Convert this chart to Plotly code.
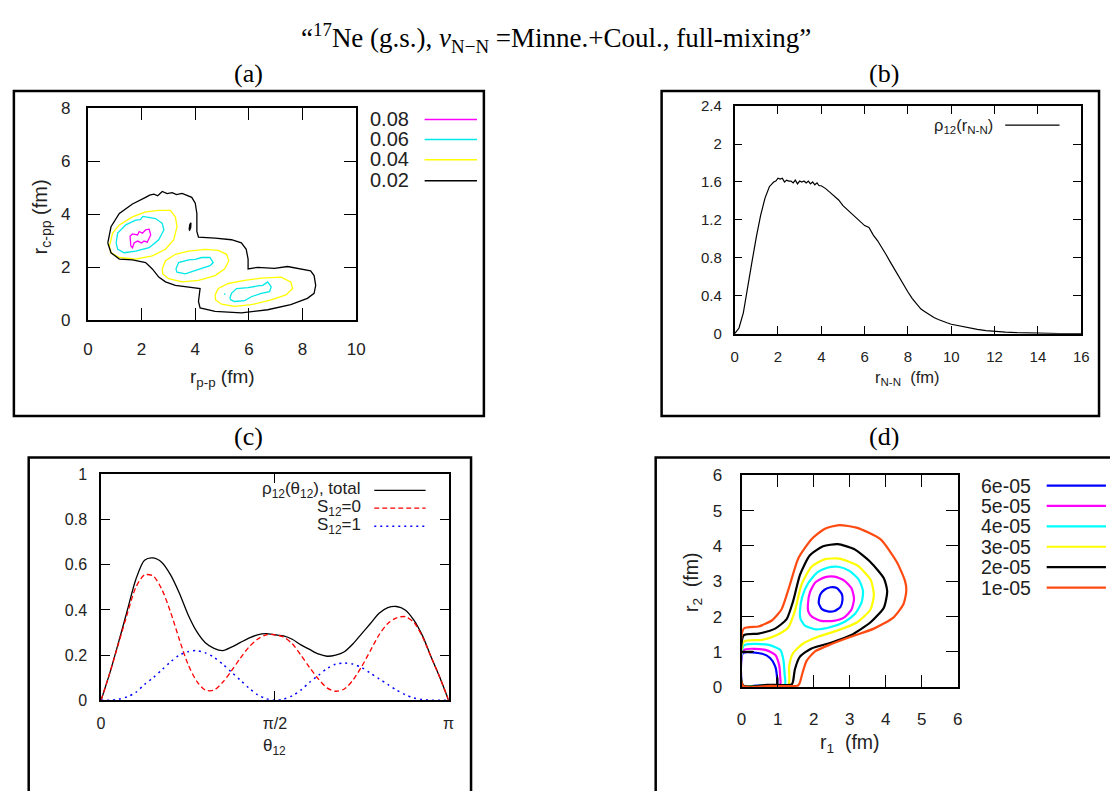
import plotly.graph_objects as go

W, H = 1110, 791

# ---------------- Panel (a): contour levels of rho(r_pp, r_c-pp) ----------------
a_levels = ["0.08", "0.06", "0.04", "0.02"]
a_colors = ["#ff00ff", "#00e8e8", "#ffff00", "#000000"]

a_c008_x = [1.60, 1.57, 1.66, 1.85, 1.91, 2.03, 2.15, 2.28, 2.34, 2.21, 2.09, 2.00, 1.85, 1.72, 1.66, 1.60]
a_c008_y = [2.80, 3.17, 3.26, 3.22, 3.35, 3.29, 3.41, 3.44, 3.22, 2.95, 2.99, 2.92, 2.99, 2.92, 2.74, 2.80]

a_c006_x = [1.05, 1.11, 1.41, 1.78, 1.95, 2.05, 2.15, 2.52, 2.77, 2.83, 2.64, 2.28, 1.78, 1.35, 1.11, 1.05, None,
            3.28, 3.38, 3.75, 4.00, 4.24, 4.55, 4.67, 4.55, 4.24, 4.00, 3.63, 3.32, 3.28, None,
            5.29, 5.35, 5.54, 5.97, 6.33, 6.52, 6.70, 6.83, 6.77, 6.46, 6.09, 5.84, 5.47, 5.33, 5.29, None,
            5.08, 5.12]
a_c006_y = [2.92, 3.29, 3.60, 3.78, 3.80, 3.92, 3.90, 3.84, 3.66, 3.41, 3.04, 2.74, 2.61, 2.55, 2.68, 2.92, None,
            1.94, 2.18, 2.28, 2.30, 2.37, 2.37, 2.18, 2.06, 1.96, 1.87, 1.75, 1.82, 1.94, None,
            0.83, 1.02, 1.20, 1.23, 1.30, 1.32, 1.45, 1.26, 1.08, 1.02, 0.89, 0.74, 0.71, 0.77, 0.83, None,
            0.97, 1.01]

a_c004_x = [0.80, 0.92, 1.17, 1.66, 2.15, 2.64, 3.07, 3.26, 3.32, 3.20, 2.89, 2.40, 1.78, 1.17, 0.86, 0.80, None,
            2.77, 2.89, 3.26, 3.75, 4.37, 4.86, 5.17, 5.25, 5.10, 4.74, 4.12, 3.51, 3.01, 2.79, 2.77, None,
            4.74, 4.86, 5.23, 5.84, 6.46, 7.20, 7.56, 7.63, 7.38, 6.83, 6.09, 5.47, 4.98, 4.76, 4.74]
a_c004_y = [2.80, 3.29, 3.60, 3.90, 4.09, 4.15, 4.15, 3.90, 3.53, 3.04, 2.68, 2.43, 2.31, 2.37, 2.55, 2.80, None,
            1.94, 2.25, 2.49, 2.61, 2.68, 2.64, 2.49, 2.25, 1.94, 1.69, 1.51, 1.45, 1.57, 1.75, 1.94, None,
            0.96, 1.20, 1.39, 1.51, 1.59, 1.63, 1.45, 1.20, 0.96, 0.77, 0.59, 0.53, 0.61, 0.77, 0.96]

a_c002_x = [0.74, 0.86, 1.17, 1.66, 2.15, 2.30, 2.46, 2.60, 2.77, 2.95, 3.14, 3.30, 3.51, 3.87, 4.00, 4.06, 4.06,
            4.12, 4.74, 5.35, 5.72, 5.90, 5.97, 5.97, 6.33, 6.95, 7.44, 7.93, 8.30, 8.43, 8.49, 8.43, 8.18, 7.56,
            6.70, 5.72, 4.74, 4.18, 4.12, 4.18, 3.75, 3.26, 2.89, 2.64, 2.40, 2.15, 1.66, 1.17, 0.86, 0.74, None,
            3.77, 3.80, 3.84, 3.83, 3.79, 3.77]
a_c002_y = [2.92, 3.53, 4.03, 4.39, 4.64, 4.72, 4.76, 4.70, 4.86, 4.78, 4.82, 4.74, 4.79, 4.64, 4.42, 4.03, 3.35,
            3.14, 3.10, 3.04, 2.92, 2.68, 2.31, 1.94, 2.00, 1.96, 2.03, 1.94, 1.87, 1.69, 1.32, 1.02, 0.83, 0.59,
            0.40, 0.28, 0.34, 0.47, 0.71, 1.20, 1.26, 1.32, 1.45, 1.63, 1.94, 2.18, 2.28, 2.31, 2.55, 2.92, None,
            3.42, 3.62, 3.68, 3.50, 3.40, 3.42]

# ---------------- Panel (b): rho_12(r_N-N) ----------------
b_r = [0.0, 0.2, 0.4, 0.6, 0.8, 1.0, 1.2, 1.4, 1.6, 1.8, 1.9, 2.0, 2.1, 2.2, 2.3, 2.4, 2.5, 2.6, 2.7, 2.8,
       2.9, 3.0, 3.1, 3.2, 3.3, 3.4, 3.5, 3.6, 3.7, 3.8, 3.9, 4.0, 4.2, 4.4, 4.6, 4.8, 5.0, 5.2, 5.4, 5.6,
       5.8, 6.0, 6.2, 6.4, 6.6, 6.8, 7.0, 7.2, 7.4, 7.6, 7.8, 8.0, 8.2, 8.4, 8.6, 8.8, 9.0, 9.2, 9.4, 9.6,
       9.8, 10.0, 10.4, 10.8, 11.2, 11.6, 12.0, 12.5, 13.0, 13.5, 14.0, 15.0, 16.0]
b_rho = [0.0, 0.06, 0.22, 0.47, 0.76, 1.02, 1.25, 1.43, 1.55, 1.60, 1.61, 1.64, 1.63, 1.64, 1.60, 1.62, 1.61, 1.61,
         1.59, 1.62, 1.58, 1.61, 1.60, 1.61, 1.59, 1.61, 1.58, 1.60, 1.57, 1.59, 1.56, 1.56, 1.53, 1.49, 1.45,
         1.41, 1.35, 1.31, 1.27, 1.23, 1.19, 1.14, 1.12, 1.04, 0.98, 0.91, 0.83, 0.75, 0.67, 0.59, 0.51, 0.44,
         0.37, 0.31, 0.26, 0.23, 0.20, 0.17, 0.15, 0.13, 0.115, 0.10, 0.08, 0.06, 0.045, 0.033, 0.024, 0.016,
         0.011, 0.007, 0.005, 0.002, 0.001]

# ---------------- Panel (c): rho_12(theta_12), theta in units of pi ----------------
c_theta = [0.0, 0.025, 0.05, 0.075, 0.1, 0.125, 0.15, 0.175, 0.2, 0.225, 0.25, 0.275, 0.3, 0.325, 0.35,
           0.375, 0.4, 0.425, 0.45, 0.475, 0.5, 0.525, 0.55, 0.575, 0.6, 0.625, 0.65, 0.675, 0.7, 0.725,
           0.75, 0.775, 0.8, 0.825, 0.85, 0.875, 0.9, 0.925, 0.95, 0.975, 1.0]
c_total = [0.0, 0.12, 0.255, 0.395, 0.535, 0.62, 0.63, 0.61, 0.555, 0.475, 0.38, 0.305, 0.255, 0.23, 0.22,
           0.235, 0.255, 0.275, 0.29, 0.295, 0.29, 0.285, 0.27, 0.245, 0.225, 0.205, 0.195, 0.2, 0.215, 0.25,
           0.295, 0.34, 0.385, 0.41, 0.415, 0.4, 0.355, 0.285, 0.19, 0.1, 0.0]
c_s0 = [0.0, 0.12, 0.25, 0.38, 0.5, 0.555, 0.55, 0.49, 0.39, 0.27, 0.16, 0.085, 0.045, 0.045, 0.08, 0.13,
        0.185, 0.235, 0.27, 0.29, 0.29, 0.28, 0.25, 0.2, 0.145, 0.095, 0.055, 0.04, 0.05, 0.09, 0.15, 0.22,
        0.29, 0.34, 0.365, 0.37, 0.345, 0.28, 0.19, 0.1, 0.0]
c_s1 = [0.0, 0.0, 0.005, 0.015, 0.035, 0.07, 0.1, 0.135, 0.17, 0.2, 0.215, 0.22, 0.21, 0.19, 0.16, 0.125,
        0.09, 0.055, 0.025, 0.007, 0.0, 0.005, 0.02, 0.045, 0.08, 0.11, 0.14, 0.16, 0.165, 0.16, 0.145, 0.12,
        0.095, 0.07, 0.045, 0.025, 0.01, 0.003, 0.0, 0.0, 0.0]
c_names = ["ρ<sub>12</sub>(θ<sub>12</sub>), total", "S<sub>12</sub>=0", "S<sub>12</sub>=1"]

# ---------------- Panel (d): contour levels of rho(r1, r2) ----------------
d_levels = ["6e-05", "5e-05", "4e-05", "3e-05", "2e-05", "1e-05"]
d_colors = ["#0000ff", "#ff00ff", "#00ffff", "#ffff00", "#000000", "#ff4a10"]

d_c6_x = [2.14, 2.18, 2.30, 2.47, 2.64, 2.78, 2.80, 2.74, 2.58, 2.39, 2.23, 2.14, None,
          0.04, 0.04, 0.57, 0.79, 0.93, 0.98, 0.98, 0.60, 0.04]
d_c6_y = [2.39, 2.62, 2.76, 2.83, 2.81, 2.64, 2.47, 2.27, 2.16, 2.15, 2.21, 2.39, None,
          0.05, 0.97, 0.95, 0.83, 0.60, 0.32, 0.07, 0.06, 0.05]
d_c5_x = [1.84, 1.90, 2.05, 2.30, 2.58, 2.85, 3.05, 3.12, 3.05, 2.85, 2.55, 2.20, 1.95, 1.85, 1.84, None,
          0.04, 0.05, 0.66, 0.93, 1.04, 1.07, 1.07, 0.60, 0.04]
d_c5_y = [2.35, 2.70, 2.97, 3.11, 3.13, 3.02, 2.80, 2.50, 2.20, 1.98, 1.88, 1.88, 2.00, 2.15, 2.35, None,
          0.05, 1.05, 1.06, 0.92, 0.64, 0.32, 0.07, 0.06, 0.05]
d_c4_x = [1.62, 1.68, 1.85, 2.10, 2.40, 2.68, 2.98, 3.25, 3.37, 3.33, 3.15, 2.85, 2.45, 2.05, 1.75, 1.63, 1.62,
          None, 0.04, 0.06, 0.75, 1.07, 1.16, 1.19, 1.20, 0.60, 0.04]
d_c4_y = [2.15, 2.55, 2.95, 3.25, 3.39, 3.41, 3.30, 3.05, 2.72, 2.40, 2.08, 1.85, 1.70, 1.64, 1.75, 1.95, 2.15,
          None, 0.05, 1.18, 1.20, 1.06, 0.78, 0.41, 0.07, 0.06, 0.05]
d_c3_x = [0.04, 0.06, 0.57, 0.98, 1.30, 1.48, 1.66, 1.94, 2.30, 2.71, 3.21, 3.58, 3.67, 3.58, 3.21, 2.67,
          2.12, 1.71, 1.43, 1.32, 1.30, 0.70, 0.04]
d_c3_y = [0.05, 1.29, 1.34, 1.48, 1.70, 2.16, 2.90, 3.41, 3.62, 3.64, 3.45, 3.04, 2.62, 2.21, 1.84, 1.61,
          1.43, 1.24, 0.97, 0.60, 0.07, 0.05, 0.05]
d_c2_x = [0.04, 0.06, 0.47, 0.93, 1.25, 1.43, 1.62, 1.89, 2.26, 2.67, 3.12, 3.58, 3.95, 4.04, 3.95, 3.58,
          3.03, 2.48, 1.94, 1.62, 1.48, 1.43, 1.39, 0.70, 0.04, None, 0.0, 0.31, None, 0.99, 0.99]
d_c2_y = [0.05, 1.47, 1.52, 1.66, 1.93, 2.44, 3.18, 3.73, 3.99, 4.05, 3.91, 3.54, 3.08, 2.72, 2.26, 1.84,
          1.47, 1.26, 1.10, 0.87, 0.51, 0.18, 0.08, 0.07, 0.05, None, 1.0, 1.0, None, 0.0, 0.28]
d_c1_x = [0.04, 0.06, 0.47, 0.84, 1.11, 1.34, 1.57, 1.94, 2.30, 2.71, 3.21, 3.85, 4.31, 4.54, 4.57, 4.49,
          4.22, 3.67, 3.03, 2.48, 2.03, 1.80, 1.68, 1.62, 1.57, 0.80, 0.04]
d_c1_y = [0.04, 1.66, 1.72, 1.89, 2.21, 2.90, 3.64, 4.19, 4.48, 4.59, 4.51, 4.19, 3.54, 2.99, 2.72, 2.35,
          1.98, 1.66, 1.43, 1.22, 1.01, 0.74, 0.37, 0.14, 0.05, 0.04, 0.04]

SANS = "Liberation Sans, Arial, sans-serif"
SERIF = "Liberation Serif, Times New Roman, serif"


def PX(x):
    return x / W


def PY(y):
    return 1 - y / H


fig = go.Figure()

# panel (a)
for xs, ys, col in zip([a_c008_x, a_c006_x, a_c004_x, a_c002_x],
                       [a_c008_y, a_c006_y, a_c004_y, a_c002_y], a_colors):
    fig.add_trace(go.Scatter(x=xs, y=ys, mode="lines", line=dict(color=col, width=1.3),
                             xaxis="x", yaxis="y", showlegend=False, hoverinfo="skip"))
# panel (b)
fig.add_trace(go.Scatter(x=b_r, y=b_rho, mode="lines", line=dict(color="black", width=1.2),
                         xaxis="x2", yaxis="y2", showlegend=False))
# panel (c)
c_styles = [dict(color="black", width=1.3), dict(color="#ff0000", width=1.3, dash="5px,3px"),
            dict(color="#0000ff", width=1.5, dash="2px,4px")]
for ys, st in zip([c_total, c_s0, c_s1], c_styles):
    fig.add_trace(go.Scatter(x=c_theta, y=ys, mode="lines", line=dict(shape="spline", smoothing=0.8, **st),
                             xaxis="x3", yaxis="y3", showlegend=False))
# panel (d)
d_xs = [d_c6_x, d_c5_x, d_c4_x, d_c3_x, d_c2_x, d_c1_x]
d_ys = [d_c6_y, d_c5_y, d_c4_y, d_c3_y, d_c2_y, d_c1_y]
for xs, ys, col in zip(d_xs, d_ys, d_colors):
    fig.add_trace(go.Scatter(x=xs, y=ys, mode="lines",
                             line=dict(color=col, width=2.2, shape="spline", smoothing=0.6),
                             xaxis="x4", yaxis="y4", showlegend=False, hoverinfo="skip"))


def ax(domain, rng, anchor, ticklen, size, standoff, lw=1.6, **kw):
    d = dict(domain=domain, range=rng, anchor=anchor, showline=True, linecolor="black", linewidth=lw,
             mirror="ticks", ticks="inside", ticklen=ticklen, tickwidth=1.3, tickcolor="black",
             showgrid=False, zeroline=False, tickfont=dict(family=SANS, size=size, color="#222"),
             ticklabelstandoff=standoff)
    d.update(kw)
    return d


layout = dict(width=W, height=H, margin=dict(l=0, r=0, t=0, b=0), paper_bgcolor="white",
              plot_bgcolor="white", showlegend=False)
layout["xaxis"] = ax([PX(84), PX(355.7)], [0, 10], "y", 12, 17, 12, lw=2, dtick=2)
layout["yaxis"] = ax([PY(319), PY(101.7)], [0, 8], "x", 12, 17, 12, lw=2, dtick=2)
layout["xaxis2"] = ax([PX(739), PX(1090)], [0, 16], "y2", 8, 15, 8, dtick=2)
layout["yaxis2"] = ax([PY(332.7), PY(99.5)], [0, 2.4], "x2", 8, 15, 8, tickvals=[0, 0.4, 0.8, 1.2, 1.6, 2, 2.4])
layout["xaxis3"] = ax([PX(97.3), PX(449.3)], [0, 1], "y3", 9, 16, 8, tickvals=[0, 0.5, 1],
                      ticktext=["0", "π/2", "π"])
layout["yaxis3"] = ax([PY(708.3), PY(476.8)], [0, 1], "x3", 9, 16, 9, dtick=0.2)
layout["xaxis4"] = ax([PX(746), PX(965)], [0, 6], "y4", 12, 17, 15, lw=2, dtick=1)
layout["yaxis4"] = ax([PY(695), PY(477.7)], [0, 6], "x4", 12, 17, 14, lw=2, dtick=1)
fig.update_layout(**layout)

shapes = []
annots = []


def box(x0, y0, x1, y1):
    shapes.append(dict(type="rect", xref="paper", yref="paper", x0=PX(x0), x1=PX(x1), y0=PY(y1), y1=PY(y0),
                       line=dict(color="black", width=2.5), fillcolor="rgba(0,0,0,0)", layer="above"))


box(9, 84, 485, 417)
box(665, 84, 1108, 417)
box(24, 459.5, 472, 820)
box(659, 459.5, 1130, 820)


def text(x, y, s, size, family=SANS, xanchor="center", angle=0, color="#222"):
    annots.append(dict(x=PX(x), y=PY(y), xref="paper", yref="paper", text=s, showarrow=False,
                       xanchor=xanchor, yanchor="middle", textangle=angle,
                       font=dict(family=family, size=size, color=color)))


def legend_line(x0, x1, y, color, width, dash="solid"):
    shapes.append(dict(type="line", xref="paper", yref="paper", x0=PX(x0), x1=PX(x1), y0=PY(y), y1=PY(y),
                       line=dict(color=color, width=width, dash=dash)))


# title and panel labels
text(558, 30, "“<sup>17</sup>Ne (g.s.), <i>v</i><sub>N−N</sub> =Minne.+Coul., full-mixing”", 27, SERIF,
     color="black")
for lab, x, y in [("(a)", 247, 66), ("(b)", 890, 66), ("(c)", 247, 438), ("(d)", 890, 438)]:
    text(x, y, lab, 26, SERIF, color="black")

# axis titles
text(220, 378, "r<sub>p-p</sub> (fm)", 19)
text(37, 213, "r<sub>c-pp</sub> (fm)", 20, angle=-90)
text(914, 378, "r<sub>N-N</sub>  (fm)", 16.5)
text(273, 756, "θ<sub>12</sub>", 17)
text(856, 753, "r<sub>1</sub>  (fm)", 19.5)
text(697, 587, "r<sub>2</sub>  (fm)", 19.5, angle=-90)

# legends
for i, (lab, col) in enumerate(zip(a_levels, a_colors)):
    y = [112.3, 132.8, 153.5, 175][i]
    text(411, y, lab, 20, xanchor="right")
    legend_line(425, 478, y + 1, col, 1.5)

text(1003, 120, "ρ<sub>12</sub>(r<sub>N-N</sub>)", 16.5, xanchor="right")
legend_line(1013, 1068, 119, "black", 1.2)

for i, lab in enumerate(c_names):
    y = [493.3, 511.5, 530][i]
    text(362.5, y, lab, 17, xanchor="right")
    st = c_styles[i]
    legend_line(374, 426, y, st["color"], st["width"], st.get("dash", "solid"))

for i, (lab, col) in enumerate(zip(d_levels, d_colors)):
    y = 488.3 + i * 20.9
    text(1041, y, lab, 19.5, xanchor="right")
    legend_line(1055, 1115, y, col, 2.2)

fig.update_layout(shapes=shapes, annotations=annots)
fig.write_html("out.html")
